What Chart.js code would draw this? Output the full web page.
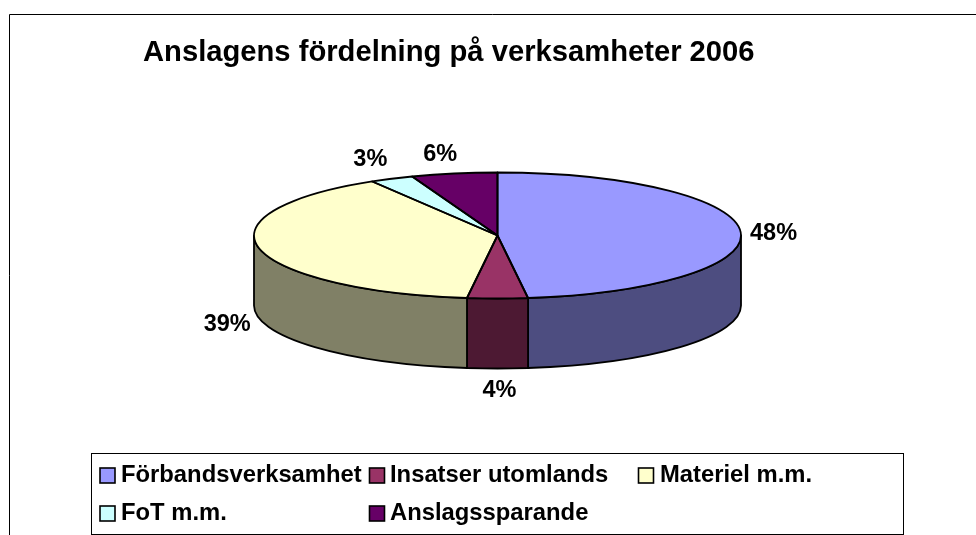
<!DOCTYPE html>
<html>
<head>
<meta charset="utf-8">
<style>html,body{margin:0;padding:0;background:#fff;overflow:hidden}canvas{display:block}</style>
<script src="https://cdn.jsdelivr.net/npm/chart.js@4/dist/chart.umd.min.js"></script>
</head>
<body>
<canvas id="c" width="976" height="535"></canvas>
<script>
const categories = ['Förbandsverksamhet','Insatser utomlands','Materiel m.m.','FoT m.m.','Anslagssparande'];
const values = [48.0, 4.0, 39.4, 2.9, 5.7];
const sliceColors = ['#9999FF','#993366','#FFFFCC','#CCFFFF','#660066'];
const wallColors = ['#4D4D80','#4D1933','#808066','#668080','#330033'];
const titleText = 'Anslagens fördelning på verksamheter 2006';

const FONT = '"Liberation Sans", Arial, sans-serif';
const pie = {cx:497.5, cy:235.5, rx:243.5, ry:63, depth:70};
const labelDx = [33, 2, -32, -21.4, -14];
const labelDy = [0.5, 91.5, 75.5, -20.2, -19.5];
const legendBox = {x:91.5, y:453.5, w:812, h:81};
const legendCols = [[100,121],[369.5,390],[638.5,660],[100,121],[369.5,390]];
const legendRows = [468,468,468,506,506];

function frontClamp(a0,a1){
  // part of [a0,a1] lying in the front half, canvas angles 0..PI (mod 2PI)
  const T=Math.PI*2; let s=a0, e=a1;
  while(e>T){s-=T;e-=T;}
  while(e<0){s+=T;e+=T;}
  const lo=Math.max(s,0), hi=Math.min(e,Math.PI);
  return hi>lo?[lo,hi]:null;
}
const pie3d = {
  id:'pie3d',
  beforeDraw(chart){
    const c=chart.ctx; c.save();
    c.strokeStyle='#000'; c.lineWidth=1;
    c.beginPath(); c.moveTo(9.5,536); c.lineTo(9.5,14.5); c.lineTo(976,14.5); c.stroke();
    c.restore();
  },
  beforeDatasetsDraw(chart){
    const c=chart.ctx, arcs=chart.getDatasetMeta(0).data;
    arcs.forEach((a,i)=>{
      const r=frontClamp(a.startAngle,a.endAngle); if(!r) return;
      c.save();
      c.beginPath();
      c.ellipse(pie.cx,pie.cy,pie.rx,pie.ry,0,r[0],r[1]);
      c.ellipse(pie.cx,pie.cy+pie.depth,pie.rx,pie.ry,0,r[1],r[0],true);
      c.closePath();
      c.fillStyle=wallColors[i]; c.fill();
      c.strokeStyle='#000'; c.lineWidth=1.8; c.lineJoin='round'; c.stroke();
      c.restore();
    });
    const a=arcs[0];
    c.save();
    c.translate(pie.cx,pie.cy); c.scale(pie.rx/a.outerRadius,pie.ry/a.outerRadius); c.translate(-a.x,-a.y);
  },
  afterDatasetsDraw(chart){
    const c=chart.ctx, arcs=chart.getDatasetMeta(0).data;
    c.restore();
    arcs.forEach(a=>{
      c.save();
      c.beginPath();
      c.moveTo(pie.cx,pie.cy);
      c.ellipse(pie.cx,pie.cy,pie.rx,pie.ry,0,a.startAngle,a.endAngle);
      c.closePath();
      c.strokeStyle='#000'; c.lineWidth=1.8; c.lineJoin='round'; c.stroke();
      c.restore();
    });
    const vals=chart.data.datasets[0].data, total=vals.reduce((p,q)=>p+q,0);
    c.save();
    c.fillStyle='#000'; c.textAlign='center'; c.textBaseline='middle';
    c.font='bold 23.5px '+FONT;
    arcs.forEach((a,i)=>{
      const m=(a.startAngle+a.endAngle)/2;
      const x=pie.cx+pie.rx*Math.cos(m)+labelDx[i], y=pie.cy+pie.ry*Math.sin(m)+labelDy[i];
      c.fillText(Math.round(vals[i]/total*100)+'%',x,y+1);
    });
    // legend
    c.strokeStyle='#000'; c.lineWidth=1;
    c.strokeRect(legendBox.x,legendBox.y,legendBox.w,legendBox.h);
    c.textAlign='left'; c.textBaseline='alphabetic';
    c.font='bold 23.8px '+FONT;
    chart.data.labels.forEach((t,i)=>{
      c.fillStyle=sliceColors[i];
      c.fillRect(legendCols[i][0],legendRows[i],15,15);
      c.lineWidth=1.6; c.strokeStyle='#000';
      c.strokeRect(legendCols[i][0],legendRows[i],15,15);
      c.fillStyle='#000';
      c.fillText(t,legendCols[i][1],legendRows[i]+14);
    });
    c.restore();
  }
};
new Chart(document.getElementById('c'),{
  type:'pie',
  data:{labels:categories,datasets:[{data:values,backgroundColor:sliceColors,borderWidth:0,clip:false}]},
  options:{
    responsive:false,animation:false,
    radius:243.5,
    events:[],
    layout:{padding:{left:143}},
    plugins:{
      legend:{display:false},
      tooltip:{enabled:false},
      title:{display:true,text:titleText,align:'start',color:'#000',
        font:{family:FONT,size:29.2,weight:'bold',lineHeight:1.2},padding:{top:35,bottom:10}}
    }
  },
  plugins:[pie3d]
});
</script>
</body>
</html>
